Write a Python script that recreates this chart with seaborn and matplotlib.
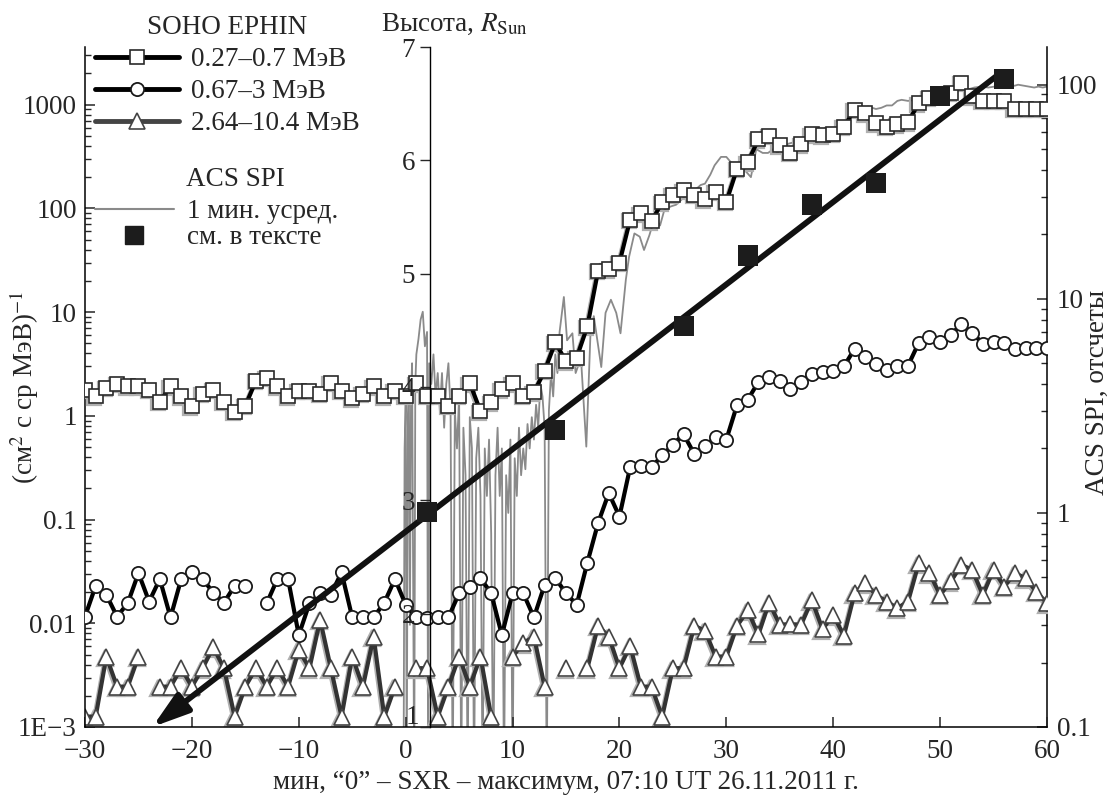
import matplotlib
matplotlib.use("Agg")
import matplotlib.pyplot as plt
import matplotlib.transforms as mtransforms
from matplotlib.lines import Line2D
from matplotlib.ticker import NullFormatter, LogLocator
import seaborn as sns

nan = float("nan")

# минуты относительно максимума SXR
minutes = list(range(-30, 61))

# SOHO EPHIN, (см^2 с ср МэВ)^-1
ephin_027_07 = [1.79, 1.54, 1.87, 2.05, 1.93, 1.93, 1.79, 1.37, 1.93, 1.54,
                1.24, 1.64, 1.79, 1.37, 1.10, 1.25, 2.19, 2.34, 1.93, 1.54,
                1.75, 1.75, 1.64, 2.09, 1.75, 1.47, 1.64, 1.93, 1.54, 1.75,
                1.57, 2.07, 1.57, 1.57, 1.25, 1.57, 2.07, 1.11, 1.35, 1.81,
                2.07, 1.57, 1.68, 2.72, 5.1, 3.35, 3.65, 7.3, 25, 26,
                30, 78, 90, 75, 115, 136, 150, 136, 122, 145,
                116, 240, 278, 463, 500, 405, 345, 415, 518, 506,
                526, 614, 889, 826, 661, 614, 646, 680, 1030, 1170,
                1260, 1300, 1630, 1200, 1090, 1090, 1090, 916, 916, 916,
                916]
ephin_067_3 = [0.0116, 0.023, 0.0188, 0.0116, 0.0156, 0.0305, 0.0162, 0.0267, 0.0114, 0.0267,
               0.031, 0.0267, 0.0198, 0.0158, 0.023, 0.023, nan, 0.0156, 0.0267, 0.0267,
               0.0077, 0.0156, 0.0195, 0.0188, 0.031, 0.0114, 0.0114, 0.0114, 0.0158, 0.0267,
               0.0151, 0.0114, 0.0112, 0.0114, 0.0114, 0.0195, 0.0226, 0.0272, 0.0195, 0.0077,
               0.0195, 0.0195, 0.0114, 0.0235, 0.0272, 0.0195, 0.0151, 0.0385, 0.0925, 0.18,
               0.107, 0.32, 0.33, 0.32, 0.415, 0.527, 0.665, 0.43, 0.51, 0.62,
               0.59, 1.27, 1.43, 2.12, 2.37, 2.15, 1.82, 2.1, 2.55, 2.63,
               2.69, 3.0, 4.43, 3.7, 3.19, 2.79, 3.0, 3.05, 5.06, 5.78,
               5.13, 6.08, 7.6, 6.3, 4.98, 5.13, 5.06, 4.43, 4.5, 4.5,
               4.5]
ephin_264_104 = [0.00126, 0.00126, 0.00478, 0.00245, 0.00245, 0.00478, nan, 0.00245, 0.00245, 0.00369,
                 0.00245, 0.00369, 0.00588, 0.00369, 0.00126, 0.00245, 0.00369, 0.00245, 0.00369, 0.00245,
                 0.00553, 0.00369, 0.0108, 0.00369, 0.00126, 0.00478, 0.00245, 0.00745, 0.00126, 0.00245,
                 nan, 0.00369, 0.00369, 0.00126, 0.00245, 0.00478, 0.00245, 0.00478, 0.00126, nan,
                 0.00478, 0.00643, 0.00745, 0.00245, nan, 0.00369, nan, 0.00369, 0.00944, 0.00745,
                 0.00369, 0.00605, 0.00245, 0.00245, 0.00126, 0.00369, 0.00369, 0.00944, 0.0085, 0.00478,
                 0.00478, 0.00944, 0.0133, 0.0078, 0.0158, 0.0097, 0.0098, 0.0097, 0.0167, 0.0088,
                 0.012, 0.0076, 0.0195, 0.0244, 0.0188, 0.0162, 0.014, 0.0162, 0.038, 0.0305,
                 0.0188, 0.0253, 0.0366, 0.0327, 0.0188, 0.0327, 0.0226, 0.0305, 0.0272, 0.0202,
                 0.0156]

# ACS SPI, 1 мин. усреднение (отсчеты)
spi_t = [-0.2, -0.1, 0.0, 0.1, 0.2, 0.3, 0.4, 0.5, 0.6, 0.8,
         0.9, 1.0, 1.2, 1.4, 1.6, 1.8, 2.0, 2.1, 2.2, 2.4,
         2.6, 2.8, 3.0, 3.2, 3.4, 3.6, 3.8, 4.0, 4.2, 4.4,
         4.6, 4.8, 5.0, 5.2, 5.4, 5.6, 5.8, 6.0, 6.2, 6.4,
         6.6, 6.8, 7.0, 7.2, 7.4, 7.6, 7.8, 8.0, 8.2, 8.4,
         8.6, 8.8, 9.0, 9.2, 9.4, 9.6, 9.8, 10.0, 10.2, 10.4,
         10.6, 10.8, 11.0, 11.2, 11.4, 11.6, 11.8, 12.0, 12.2, 12.4,
         12.6, 12.8, 13.0, 13.2, 13.4, 13.6, 13.8, 14.0, 14.2, 14.4,
         14.8, 15.1, 15.6, 15.9, 16.4, 16.9, 17.3, 17.6, 18.3, 18.7,
         19.2, 19.7, 20.1, 20.6, 20.9, 21.4, 21.9, 22.3, 22.8, 23.3,
         23.8, 24.2, 24.8, 25.3, 26.1, 26.6, 27.0, 27.6, 28.0, 28.5,
         28.9, 29.5, 30.0, 30.5, 31.1, 31.7, 32.3, 32.8, 33.4, 33.9,
         34.4, 34.8, 35.3, 35.8, 36.4, 37.0, 37.6, 38.3, 38.9, 39.5,
         40.2, 40.8, 41.4, 41.9, 42.6, 43.3, 44.0, 44.5, 45.0, 45.5,
         46.0, 46.4, 47.0, 47.6, 48.2, 48.9, 49.5, 50.1, 50.8, 51.4,
         52.0, 52.6, 53.2, 53.9, 54.5, 55.1, 55.8, 56.4, 57.0, 57.3,
         57.8, 58.3, 58.8, 59.2, 59.6, 60.0]
spi_counts = [0.05, 2.0, 3.2, 0.05, 2.8, 4.0, 0.3, 3.5, 5.0, 0.05,
              4.0, 5.5, 6.5, 8.0, 8.7, 6.0, 7.0, 0.05, 5.0, 4.0,
              5.5, 3.5, 4.5, 3.0, 4.5, 2.5, 4.0, 5.0, 3.0, 0.05,
              3.0, 2.0, 3.5, 0.05, 2.5, 1.5, 0.05, 2.8, 2.0, 0.05,
              1.8, 2.5, 1.2, 0.05, 2.0, 1.2, 2.2, 0.8, 0.05, 1.5,
              2.5, 1.2, 2.0, 0.05, 1.5, 1.0, 2.2, 0.05, 1.8, 1.2,
              2.5, 1.5, 2.0, 1.6, 2.6, 2.0, 2.8, 2.2, 3.2, 2.5,
              4.0, 3.5, 2.5, 0.05, 3.0, 4.5, 3.5, 5.5, 4.5, 7.0,
              10.2, 6.4, 6.9, 4.5, 5.3, 2.04, 7.1, 8.3, 4.8, 8.6,
              9.9, 8.6, 6.9, 12.3, 15.7, 20.2, 19.5, 16.9, 19.8, 24,
              22, 26, 27, 27.5, 30, 29.5, 32, 34, 34.5, 38,
              42, 46, 46, 43, 38, 40, 37, 50, 48, 48,
              50, 48, 51, 53, 54, 55, 57, 60, 59, 59,
              61, 62, 70, 75, 78, 79, 77, 78, 80, 80,
              84, 85, 84, 85, 87, 88, 89, 91, 93, 95,
              96, 95, 97, 98, 97, 98, 97, 98, 99, 100,
              99, 98, 97, 98, 97, 98]

# высота, R_Sun ("см. в тексте")
height_t = [2, 14, 26, 32, 38, 44, 50, 56]
height_r = [2.90, 3.62, 4.54, 5.16, 5.61, 5.80, 6.57, 6.72]
# линейная аппроксимация (концы стрелки)
fit_t = [55.5, -23.7]
fit_r = [6.76, 1.0]
height_ticks = [1, 2, 3, 4, 5, 6, 7]

sns.set_style("ticks")
plt.rcParams["font.family"] = ["Liberation Serif", "DejaVu Serif"]
plt.rcParams["mathtext.fontset"] = "stix"
FS = 19.5

fig = plt.figure(figsize=(11.15, 7.98), dpi=100)
ax = fig.add_axes([85 / 1115, 71 / 798, 962 / 1115, 680 / 798])
ax_r = ax.twinx()
ax_h = ax.twinx()
ax_r.set_zorder(1)
ax.set_zorder(2)
ax_h.set_zorder(3)
for a in (ax, ax_r, ax_h):
    a.patch.set_visible(False)

# ACS SPI (правая ось)
ax_r.set_yscale("log")
ax_r.set_ylim(0.1, 150)
sns.lineplot(x=spi_t, y=spi_counts, ax=ax_r, color="#8a8a8a", lw=1.3,
             sort=False, estimator=None)
ax_r.set_yticks([0.1, 1, 10, 100], ["0.1", "1", "10", "100"])
ax_r.yaxis.set_minor_locator(LogLocator(subs=range(2, 10)))
ax_r.yaxis.set_minor_formatter(NullFormatter())
ax_r.tick_params(axis="y", which="both", direction="in", labelsize=FS, pad=7)
ax_r.tick_params(axis="y", which="major", length=7, width=1.1)
ax_r.tick_params(axis="y", which="minor", length=4, width=1.0)
ax_r.set_ylabel("")
for s in ("top", "left", "bottom"):
    ax_r.spines[s].set_visible(False)
ax_r.spines["right"].set_linewidth(1.1)
ax_r.spines["right"].set_color("black")

# SOHO EPHIN (левая ось)
ax.set_yscale("log")
ax.set_xlim(-30, 60)
ax.set_ylim(1e-3, 3600)
shadow = mtransforms.offset_copy(ax.transData, fig=fig, x=-1.5, y=-1.5, units="dots")

ax.plot(minutes, ephin_264_104, color="#b0b0b0", lw=3, marker="^", ms=11,
        mfc="none", mec="#b0b0b0", mew=1.6, transform=shadow, zorder=1)
ax.plot(minutes, ephin_264_104, color="#333333", lw=3, marker="^", ms=11,
        mfc="white", mec="#444444", mew=1.2, zorder=2)
ax.plot(minutes, ephin_067_3, color="black", lw=3, marker="o", ms=9.5,
        mfc="white", mec="#1a1a1a", mew=1.3, zorder=3)
ax.plot(minutes, ephin_027_07, color="#b0b0b0", lw=3, marker="s", ms=9.5,
        mfc="none", mec="#b0b0b0", mew=1.6, transform=shadow, zorder=3)
ax.plot(minutes, ephin_027_07, color="black", lw=3, marker="s", ms=9.5,
        mfc="white", mec="#2a2a2a", mew=1.2, zorder=4)

ax.set_xticks(range(-30, 61, 10))
ax.set_yticks([1e-3, 1e-2, 0.1, 1, 10, 100, 1000],
              ["1E\u22123", "0.01", "0.1", "1", "10", "100", "1000"])
ax.yaxis.set_minor_locator(LogLocator(subs=range(2, 10)))
ax.yaxis.set_minor_formatter(NullFormatter())
ax.tick_params(which="both", direction="in", labelsize=FS, top=False, right=False)
ax.tick_params(axis="y", which="major", length=7, width=1.1, pad=6)
ax.tick_params(axis="y", which="minor", length=4, width=1.0)
ax.tick_params(axis="x", which="major", length=7, width=1.1, pad=9)
ax.spines["top"].set_visible(False)
ax.spines["right"].set_visible(False)
for s in ("left", "bottom"):
    ax.spines[s].set_linewidth(1.1)
    ax.spines[s].set_color("black")
ax.set_xlabel("мин, \u201c0\u201d \u2013 SXR \u2013 максимум, 07:10 UT 26.11.2011 г.",
              fontsize=FS, labelpad=4)

# Высота (средняя ось)
ax_h.set_ylim(1, 7)
ax_h.yaxis.tick_left()
for s in ("top", "right", "bottom"):
    ax_h.spines[s].set_visible(False)
ax_h.spines["left"].set_visible(True)
ax_h.spines["left"].set_position(("data", 2.3))
ax_h.spines["left"].set_linewidth(1.0)
ax_h.spines["left"].set_color("black")
# нижняя метка "1" чуть приподнята, чтобы не наезжать на "0" оси времени
ax_h.set_yticks(height_ticks, [""] + [str(v) for v in height_ticks[1:]])
ax_h.annotate(str(height_ticks[0]), xy=(2.3, height_ticks[0]), xytext=(-8, 7),
              textcoords="offset points", ha="right", va="center",
              fontsize=FS, annotation_clip=False)
ax_h.tick_params(axis="y", which="major", direction="out", length=7, width=1.0,
                 labelsize=FS, pad=4, left=True, right=False,
                 labelleft=True, labelright=False)
ax_h.tick_params(axis="y", which="minor", left=False, right=False)

ax_h.annotate("", xy=(fit_t[1], fit_r[1]), xytext=(fit_t[0], fit_r[0]),
              arrowprops=dict(arrowstyle="-|>,head_length=1.1,head_width=0.35",
                              lw=4.2, color="#111111", mutation_scale=20,
                              shrinkA=0, shrinkB=0),
              annotation_clip=False, zorder=4)
sns.scatterplot(x=height_t, y=height_r, ax=ax_h, marker="s", s=210,
                color="#1c1c1c", edgecolor="none", zorder=5)
ax_h.set_ylabel("")

# подписи осей
fig.text(24 / 1115, 1 - 387 / 798, "(см$^2$ с ср МэВ)$^{-1}$", rotation=90,
         ha="center", va="center", fontsize=FS)
fig.text(1097 / 1115, 1 - 392 / 798, "ACS SPI, отсчеты", rotation=90,
         ha="center", va="center", fontsize=FS)
fig.text(455 / 1115, 1 - 24 / 798, "Высота, $R_{\\mathrm{Sun}}$",
         ha="center", va="center", fontsize=FS)

# легенды
h_sq = Line2D([], [], color="black", lw=3.5, marker="s", ms=9.5, mfc="white",
              mec="#2a2a2a", mew=1.2)
h_ci = Line2D([], [], color="black", lw=3.5, marker="o", ms=9.5, mfc="white",
              mec="#1a1a1a", mew=1.3)
h_tr = Line2D([], [], color="#444444", lw=3.5, marker="^", ms=11, mfc="white",
              mec="#444444", mew=1.2)
leg1 = ax_h.legend([h_sq, h_ci, h_tr],
                   ["0.27\u20130.7 МэВ", "0.67\u20133 МэВ", "2.64\u201310.4 МэВ"],
                   title="SOHO EPHIN", loc="upper left",
                   bbox_to_anchor=(95 / 1115, 1 - 15 / 798),
                   bbox_transform=fig.transFigure, frameon=False,
                   fontsize=FS, title_fontsize=FS, handlelength=3.1,
                   handletextpad=0.45, labelspacing=0.26, borderpad=0,
                   borderaxespad=0)
ax_h.add_artist(leg1)

fig.text(235 / 1115, 1 - 180 / 798, "ACS SPI", ha="center", va="center",
         fontsize=FS)
h_spi = Line2D([], [], color="#8a8a8a", lw=1.5)
h_hr = Line2D([], [], color="#1c1c1c", lw=0, marker="s", ms=13)
leg2 = ax_h.legend([h_spi, h_hr], ["1 мин. усред.", "см. в тексте"],
                   loc="upper left",
                   bbox_to_anchor=(95 / 1115, 1 - 199 / 798),
                   bbox_transform=fig.transFigure, frameon=False,
                   fontsize=FS, handlelength=2.9,
                   handletextpad=0.5, labelspacing=0.05, borderpad=0,
                   borderaxespad=0)

fig.savefig("out.png", dpi=100)
